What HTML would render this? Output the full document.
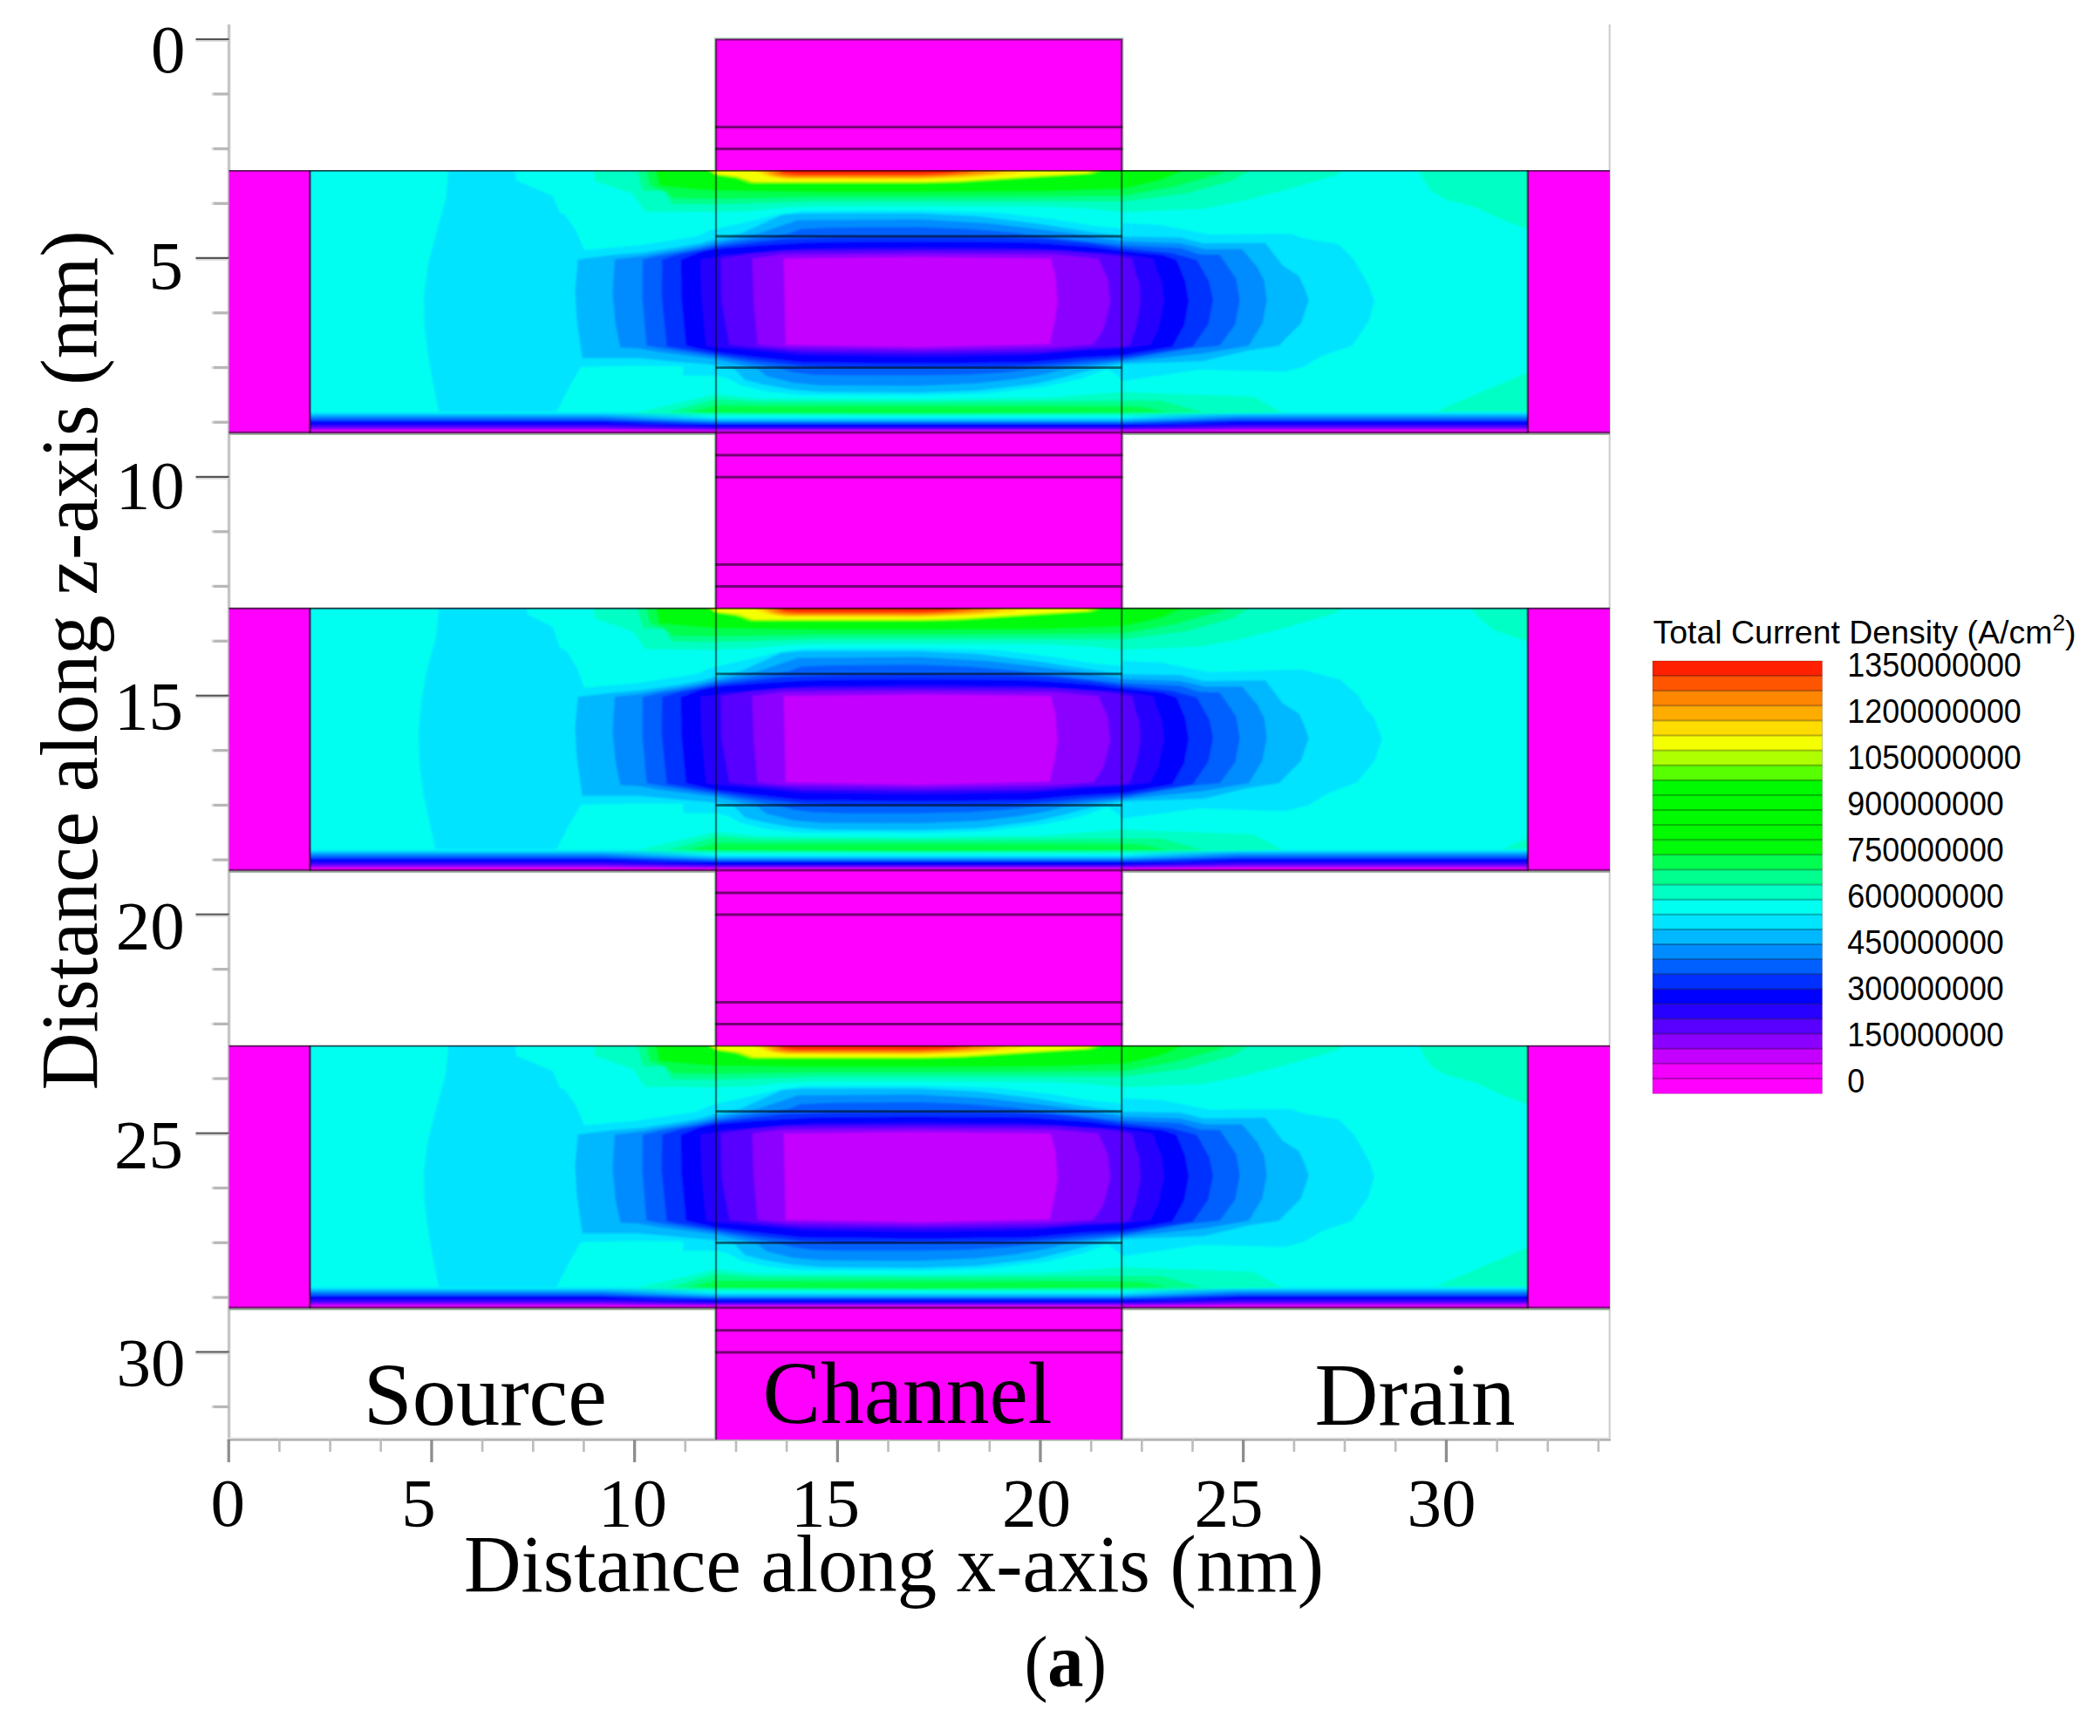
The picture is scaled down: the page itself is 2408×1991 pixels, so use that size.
<!DOCTYPE html>
<html lang="en"><head><meta charset="utf-8"><title>Total Current Density</title>
<style>html,body{margin:0;padding:0;background:#fff}svg{display:block}.s{font-family:"Liberation Serif","Times New Roman",serif;fill:#000}.n{font-family:"Liberation Sans","DejaVu Sans",sans-serif;fill:#000}</style></head><body>
<svg width="2408" height="1991" viewBox="0 0 2408 1991">
<rect width="2408" height="1991" fill="#fff"/>
<defs>
<linearGradient id="gs" gradientUnits="userSpaceOnUse" x1="0" y1="472" x2="0" y2="496.6"><stop offset="0.0000" stop-color="#00fff0"/><stop offset="0.0122" stop-color="#00fff0"/><stop offset="0.0528" stop-color="#00e4ff"/><stop offset="0.1057" stop-color="#00e4ff"/><stop offset="0.1463" stop-color="#00b8ff"/><stop offset="0.1992" stop-color="#00b8ff"/><stop offset="0.2398" stop-color="#008cff"/><stop offset="0.2846" stop-color="#008cff"/><stop offset="0.3252" stop-color="#0060ff"/><stop offset="0.3943" stop-color="#0060ff"/><stop offset="0.4289" stop-color="#0030ff"/><stop offset="0.4289" stop-color="#0030ff"/><stop offset="0.4634" stop-color="#0000ff"/><stop offset="0.5772" stop-color="#0000ff"/><stop offset="0.6179" stop-color="#2800ff"/><stop offset="0.6707" stop-color="#2800ff"/><stop offset="0.7114" stop-color="#5800ff"/><stop offset="0.7439" stop-color="#5800ff"/><stop offset="0.7846" stop-color="#8c00ff"/><stop offset="0.8130" stop-color="#8c00ff"/><stop offset="0.8537" stop-color="#c400ff"/><stop offset="0.8659" stop-color="#c400ff"/><stop offset="0.9065" stop-color="#f400ff"/><stop offset="1.0000" stop-color="#f400ff"/></linearGradient>
<linearGradient id="gc" gradientUnits="userSpaceOnUse" x1="0" y1="473" x2="0" y2="496.6"><stop offset="0.0000" stop-color="#00ffc4"/><stop offset="0.1398" stop-color="#00ffc4"/><stop offset="0.1822" stop-color="#00fff0"/><stop offset="0.2331" stop-color="#00fff0"/><stop offset="0.2754" stop-color="#00e4ff"/><stop offset="0.3178" stop-color="#00e4ff"/><stop offset="0.3602" stop-color="#00b8ff"/><stop offset="0.4025" stop-color="#00b8ff"/><stop offset="0.4449" stop-color="#008cff"/><stop offset="0.4661" stop-color="#008cff"/><stop offset="0.5085" stop-color="#0060ff"/><stop offset="0.5169" stop-color="#0060ff"/><stop offset="0.5593" stop-color="#0030ff"/><stop offset="0.5636" stop-color="#0030ff"/><stop offset="0.6059" stop-color="#0000ff"/><stop offset="0.6992" stop-color="#0000ff"/><stop offset="0.7415" stop-color="#2800ff"/><stop offset="0.7500" stop-color="#2800ff"/><stop offset="0.7924" stop-color="#5800ff"/><stop offset="0.7924" stop-color="#5800ff"/><stop offset="0.8347" stop-color="#8c00ff"/><stop offset="0.8390" stop-color="#8c00ff"/><stop offset="0.8814" stop-color="#c400ff"/><stop offset="0.8941" stop-color="#c400ff"/><stop offset="0.9364" stop-color="#f400ff"/><stop offset="1.0000" stop-color="#f400ff"/></linearGradient>
<linearGradient id="hf" gradientUnits="userSpaceOnUse" x1="690" y1="0" x2="1420" y2="0"><stop offset="0" stop-color="#fff" stop-opacity="0"/><stop offset="0.18" stop-color="#fff" stop-opacity="1"/><stop offset="0.818" stop-color="#fff" stop-opacity="1"/><stop offset="1" stop-color="#fff" stop-opacity="0"/></linearGradient>
<mask id="mc" maskUnits="userSpaceOnUse" x="680" y="460" width="760" height="50"><rect x="680" y="460" width="760" height="50" fill="url(#hf)"/></mask>
<filter id="bl" x="-2%" y="-5%" width="104%" height="110%"><feGaussianBlur stdDeviation="0.9"/></filter>
<filter id="lb2" x="-2%" y="-5%" width="104%" height="110%"><feGaussianBlur stdDeviation="0.5"/></filter>
<clipPath id="cs"><rect x="355.7" y="195.5" width="1396.2" height="301.1"/></clipPath>
</defs>
<g id="axes">
<rect x="260.8" y="28" width="3.5" height="1624.4" fill="#c6c6c6"/>
<rect x="1844.6" y="28" width="2.2" height="1624.4" fill="#cfcfcf"/>
<rect x="260.8" y="1648.6" width="1586" height="2" fill="#dedede"/>
<rect x="260.8" y="1650.4" width="1586" height="2.1" fill="#a6a6a6"/>
<rect x="224.5" y="43.9" width="38" height="2.2" fill="#555"/>
<rect x="224.5" y="46.1" width="38" height="1.7" fill="#d6d6d6"/>
<rect x="244.5" y="106.2" width="18" height="3.3" fill="#b8b8b8"/>
<rect x="242.6" y="106.2" width="2" height="3.3" fill="#dcdcdc"/>
<rect x="244.5" y="169" width="18" height="3.3" fill="#b8b8b8"/>
<rect x="242.6" y="169" width="2" height="3.3" fill="#dcdcdc"/>
<rect x="244.5" y="231.7" width="18" height="3.3" fill="#b8b8b8"/>
<rect x="242.6" y="231.7" width="2" height="3.3" fill="#dcdcdc"/>
<rect x="224.5" y="294.8" width="38" height="2.2" fill="#555"/>
<rect x="224.5" y="297" width="38" height="1.7" fill="#d6d6d6"/>
<rect x="244.5" y="357.2" width="18" height="3.3" fill="#b8b8b8"/>
<rect x="242.6" y="357.2" width="2" height="3.3" fill="#dcdcdc"/>
<rect x="244.5" y="419.9" width="18" height="3.3" fill="#b8b8b8"/>
<rect x="242.6" y="419.9" width="2" height="3.3" fill="#dcdcdc"/>
<rect x="244.5" y="482.6" width="18" height="3.3" fill="#b8b8b8"/>
<rect x="242.6" y="482.6" width="2" height="3.3" fill="#dcdcdc"/>
<rect x="224.5" y="545.8" width="38" height="2.2" fill="#555"/>
<rect x="224.5" y="548" width="38" height="1.7" fill="#d6d6d6"/>
<rect x="244.5" y="608.1" width="18" height="3.3" fill="#b8b8b8"/>
<rect x="242.6" y="608.1" width="2" height="3.3" fill="#dcdcdc"/>
<rect x="244.5" y="670.8" width="18" height="3.3" fill="#b8b8b8"/>
<rect x="242.6" y="670.8" width="2" height="3.3" fill="#dcdcdc"/>
<rect x="244.5" y="733.6" width="18" height="3.3" fill="#b8b8b8"/>
<rect x="242.6" y="733.6" width="2" height="3.3" fill="#dcdcdc"/>
<rect x="224.5" y="796.7" width="38" height="2.2" fill="#555"/>
<rect x="224.5" y="798.9" width="38" height="1.7" fill="#d6d6d6"/>
<rect x="244.5" y="859" width="18" height="3.3" fill="#b8b8b8"/>
<rect x="242.6" y="859" width="2" height="3.3" fill="#dcdcdc"/>
<rect x="244.5" y="921.8" width="18" height="3.3" fill="#b8b8b8"/>
<rect x="242.6" y="921.8" width="2" height="3.3" fill="#dcdcdc"/>
<rect x="244.5" y="984.5" width="18" height="3.3" fill="#b8b8b8"/>
<rect x="242.6" y="984.5" width="2" height="3.3" fill="#dcdcdc"/>
<rect x="224.5" y="1047.6" width="38" height="2.2" fill="#555"/>
<rect x="224.5" y="1049.8" width="38" height="1.7" fill="#d6d6d6"/>
<rect x="244.5" y="1110" width="18" height="3.3" fill="#b8b8b8"/>
<rect x="242.6" y="1110" width="2" height="3.3" fill="#dcdcdc"/>
<rect x="244.5" y="1172.7" width="18" height="3.3" fill="#b8b8b8"/>
<rect x="242.6" y="1172.7" width="2" height="3.3" fill="#dcdcdc"/>
<rect x="244.5" y="1235.4" width="18" height="3.3" fill="#b8b8b8"/>
<rect x="242.6" y="1235.4" width="2" height="3.3" fill="#dcdcdc"/>
<rect x="224.5" y="1298.6" width="38" height="2.2" fill="#555"/>
<rect x="224.5" y="1300.8" width="38" height="1.7" fill="#d6d6d6"/>
<rect x="244.5" y="1360.9" width="18" height="3.3" fill="#b8b8b8"/>
<rect x="242.6" y="1360.9" width="2" height="3.3" fill="#dcdcdc"/>
<rect x="244.5" y="1423.6" width="18" height="3.3" fill="#b8b8b8"/>
<rect x="242.6" y="1423.6" width="2" height="3.3" fill="#dcdcdc"/>
<rect x="244.5" y="1486.4" width="18" height="3.3" fill="#b8b8b8"/>
<rect x="242.6" y="1486.4" width="2" height="3.3" fill="#dcdcdc"/>
<rect x="224.5" y="1549.5" width="38" height="2.2" fill="#555"/>
<rect x="224.5" y="1551.7" width="38" height="1.7" fill="#d6d6d6"/>
<rect x="244.5" y="1611.8" width="18" height="3.3" fill="#b8b8b8"/>
<rect x="242.6" y="1611.8" width="2" height="3.3" fill="#dcdcdc"/>
<rect x="260.6" y="1651" width="3.3" height="26" fill="#8e8e8e"/>
<rect x="319.1" y="1651" width="2.6" height="14" fill="#bcbcbc"/>
<rect x="377.3" y="1651" width="2.6" height="14" fill="#bcbcbc"/>
<rect x="435.4" y="1651" width="2.6" height="14" fill="#bcbcbc"/>
<rect x="493.3" y="1651" width="3.3" height="26" fill="#8e8e8e"/>
<rect x="551.8" y="1651" width="2.6" height="14" fill="#bcbcbc"/>
<rect x="610" y="1651" width="2.6" height="14" fill="#bcbcbc"/>
<rect x="668.1" y="1651" width="2.6" height="14" fill="#bcbcbc"/>
<rect x="726" y="1651" width="3.3" height="26" fill="#8e8e8e"/>
<rect x="784.5" y="1651" width="2.6" height="14" fill="#bcbcbc"/>
<rect x="842.7" y="1651" width="2.6" height="14" fill="#bcbcbc"/>
<rect x="900.8" y="1651" width="2.6" height="14" fill="#bcbcbc"/>
<rect x="958.7" y="1651" width="3.3" height="26" fill="#8e8e8e"/>
<rect x="1017.2" y="1651" width="2.6" height="14" fill="#bcbcbc"/>
<rect x="1075.3" y="1651" width="2.6" height="14" fill="#bcbcbc"/>
<rect x="1133.5" y="1651" width="2.6" height="14" fill="#bcbcbc"/>
<rect x="1191.3" y="1651" width="3.3" height="26" fill="#8e8e8e"/>
<rect x="1249.9" y="1651" width="2.6" height="14" fill="#bcbcbc"/>
<rect x="1308" y="1651" width="2.6" height="14" fill="#bcbcbc"/>
<rect x="1366.2" y="1651" width="2.6" height="14" fill="#bcbcbc"/>
<rect x="1424" y="1651" width="3.3" height="26" fill="#8e8e8e"/>
<rect x="1482.6" y="1651" width="2.6" height="14" fill="#bcbcbc"/>
<rect x="1540.7" y="1651" width="2.6" height="14" fill="#bcbcbc"/>
<rect x="1598.9" y="1651" width="2.6" height="14" fill="#bcbcbc"/>
<rect x="1656.8" y="1651" width="3.3" height="26" fill="#8e8e8e"/>
<rect x="1715.3" y="1651" width="2.6" height="14" fill="#bcbcbc"/>
<rect x="1773.5" y="1651" width="2.6" height="14" fill="#bcbcbc"/>
<rect x="1831.6" y="1651" width="2.6" height="14" fill="#bcbcbc"/>
</g>
<g id="gate">
<rect x="820.4" y="44.4" width="466.9" height="1606.5" fill="#ff00ff"/>
<path d="M819.5 1650.9V43.7H1288V1650.9" fill="none" stroke="#b4e6c0" stroke-width="1.5"/>
</g>
<g transform="translate(0 0)">
<rect x="262.6" y="195.5" width="1583.4" height="301.1" fill="#ff00ff"/>
<g clip-path="url(#cs)"><g filter="url(#bl)">
<rect x="350.7" y="190.5" width="1406.2" height="311.1" fill="#00fff0"/>
<path fill="#00e4ff" d="M514.3 194.9L511 229.2L499.9 269.1L491.1 302.3L486.2 337.7L486.6 373.1L491.1 408.6L496.6 439.6L503.3 473.9L637.2 473.9L652.7 444L666 420.8L732.4 419.6L783.4 420.1L783.4 430.7L821 430.7L835 434L850 442L880 449L920 453L1054 453.5L1131.7 451.3L1198 443.5L1242.6 433.5L1270 423.5L1280 430L1287 437L1375.6 424.1L1473 426.3L1495.1 420.8L1515.1 408.6L1550.5 396.4L1569.3 368.7L1576 345.5L1570.4 328.9L1561.6 313.4L1552.7 297.9L1535 280.1L1495.1 273.5L1479.6 268L1386.6 269.1L1331.3 258L1287 255.8L1287 262L1254 259L1209 251.5L1143 243.7L1054 241.5L921 242L893 246L850 256L821 262.6L812.2 265.1L798.9 271.3L732.4 281.3L670 286.8L660.5 264.6L648.3 246.9L641.7 243.6L633.9 224.8L591.8 207.1L590.7 194.9Z"/>
<path fill="#00b8ff" d="M662.7 297.4L659.4 333.3L661.6 368.7L667.8 410.8L732 410.8L755 412.8L790 416L821 418.5L842 423L854.3 435.8L876.5 441.3L909.8 446.9L943 449.6L1054 450.2L1120.6 448L1187 440.2L1220.4 432.4L1253.7 423.5L1287 417.4L1380 414.1L1430.9 401.9L1466.8 396.4L1474.1 388.6L1491.8 370.9L1500.7 344.4L1495.1 328.9L1489.6 316.7L1470.8 304.5L1450.9 278.4L1380 279L1353.4 272.4L1287 271.3L1265 268L1242.6 264.8L1187 256L1120.6 248.1L1054 244.8L921 244.8L896.4 246.5L850 267.6L835 271L821 274L816.7 275L802.7 279L780.7 283L758.7 286.3L736.7 289.7L704.3 292.3L664 297.2Z"/>
<path fill="#008cff" d="M704.8 297.4L702.5 337.7L705.9 373.1L711.4 398.6L732 399.6L755 403.6L790 408L821 412L868.7 423L878.7 431.3L909.8 439L943 441.9L1054 442.4L1120.6 439.6L1165 434.7L1198.2 429L1220.4 423.5L1287 415L1380 405.3L1432 396.4L1447.5 370.9L1452.6 344.4L1449.8 322.2L1442 306.7L1424.3 285.7L1382.2 285.7L1353.4 279L1287 276.8L1231.5 268L1198 263.7L1131.7 256L1054 251.5L915 252.6L868.7 268L845 273L821 278L816.7 279L802.7 282.3L780.7 286.3L758.7 289.7L736.7 293.7L706 297.2Z"/>
<path fill="#0060ff" d="M736.9 297.4L736.4 339.9L741.3 396.4L765.6 400.5L790 404.3L821 409L896.4 423L909.8 426.9L932 429.7L965.2 430.8L1054 430.8L1109.5 429.7L1153.9 426.9L1181.6 423.5L1287 413L1364.5 399.7L1398.8 396.4L1416.5 372L1421.6 344.4L1417.6 320L1398.8 292.3L1375.6 291.7L1353.4 284.6L1287 281.3L1176 268.7L1165 267L1109.5 262.6L1054 260.4L954 261L918.6 262.6L904 268L860 274.5L821 280.7L816.7 281.7L802.7 285L780.7 289L758.7 292.7L738.3 297.2Z"/>
<path fill="#0030ff" d="M759 297.4L758.6 339.9L764.5 397.1L787.8 401L821 406.7L870 414L920 420L960 421.5L1054 421.5L1150 421L1200 418L1250 413L1287 410.5L1367.8 397.5L1385.5 372L1391.1 344.4L1386.6 323.3L1372.3 297.9L1342.4 290.1L1287 284.6L1250 279L1200 274L1150 272L1054 271.5L960 272L900 274L860 278.5L821 283.3L816.7 284.3L802.7 287.3L780.7 291.3L760.2 297.2Z"/>
<path fill="#0000ff" d="M780.7 297.4L781.2 339.9L786.7 396.4L821 404.1L870 410L920 415.5L1054 417L1180 415.5L1240 410L1287 407.5L1344.1 397.5L1357.9 373.1L1363 345.5L1359 322.2L1349 297.9L1331.3 292.3L1287 287.9L1250 283L1180 278L1054 277L930 278L870 281.5L821 285.5L816.7 286.3L802.7 289.3L782.1 297.2Z"/>
<path fill="#2800ff" d="M803.3 297.9L804.4 339.9L809.9 396.4L821 397.9L870 402L920 407L1054 409L1180 407L1240 402L1287 399.5L1319.1 395.3L1328 377.6L1334.6 346.6L1332.4 323.3L1326.9 311.1L1322.4 296.8L1287 291.2L1250 290L1180 285L1054 283.7L930 285L870 290L828 292.3L821 295.5L804.5 297.2Z"/>
<path fill="#5800ff" d="M826.5 296.4L827.7 347L836.5 395.3L870 399L920 403.5L1054 405L1190 403.5L1250 399L1287 397.5L1294.8 396.4L1302.5 375.4L1307.4 348.8L1306.5 324.4L1302.5 315.6L1298.1 296.8L1287 294.5L1260 291L1210 287.5L1054 287L900 287.5L862 291Z"/>
<path fill="#8c00ff" d="M862.6 296.4L864.3 347L868.7 395.3L905 399L1054 401.5L1200 399L1253.7 395.3L1264.8 379L1269 363.6L1273 347L1270.4 320.3L1259.3 296.4L1205 291.5L1054 290.5L899 291.5Z"/>
<path fill="#c400ff" d="M898.7 296.4L900.9 395.3L1054 398L1203.8 394.7L1209.3 369L1212.7 347L1210.4 318L1205 296.4L1054 294.7Z"/>
<path fill="#00ffc4" d="M680.7 190.5L682 207.3L725.3 222L740 242.7L821 243.3L860 242L900 238L940 236.7L1054 236.5L1200 237L1250 239.5L1288 243.3L1380 239.3L1426.7 230L1473 218L1533 200.7L1546.7 190.5Z"/>
<path fill="#00ff8c" d="M729.3 190.5L737.3 218.7L761.3 219.3L770.7 234L821 234.5L940 231L1054 231L1200 231L1288 231.3L1360 222L1413 207.3L1440 190.5Z"/>
<path fill="#00ff50" d="M740 190.5L745.3 212.7L764 220L772 227.3L821 228L940 226L1054 226L1200 225.5L1288 224.7L1346.7 214L1400 199.3L1408 190.5Z"/>
<path fill="#00fc08" d="M751.3 190.5L756 213.3L793.3 216.7L821 218.7L940 220.4L1054 220.4L1200 219.5L1288 216.7L1333 206L1366.7 190.5Z"/>
<path fill="#58ff00" d="M803 190.5L821 201L843 204.5L860 210.5L1054 210.5L1100 209.5L1200 203L1254 199.5L1275 190.5Z"/>
<path fill="#b0ff00" d="M806 190.5L821 200.2L845 203.5L862 209.5L1054 209.5L1100 208.5L1200 202L1250 199L1268 190.5Z"/>
<path fill="#f4ff00" d="M810 190.5L821 199.5L847 202.5L865 208.5L1054 208.5L1100 207.3L1200 201L1245 198.5L1260 190.5Z"/>
<path fill="#ffdc00" d="M850 190.5L880 202.5L900 205.5L1054 206L1110 204L1160 200L1200 190.5Z"/>
<path fill="#ffac00" d="M862 190.5L886 202L903 204.3L1054 204.5L1100 202.5L1140 199.5L1170 190.5Z"/>
<path fill="#ff8600" d="M870 190.5L890 201L907 203L1054 203L1090 201.5L1125 198.5L1150 190.5Z"/>
<path fill="#ff5500" d="M878 190.5L896 200L911 201.5L1054 201.5L1080 200.5L1110 198L1130 190.5Z"/>
<path fill="#ff2000" d="M886 190.5L900 198.5L915 199.7L1054 199.7L1075 199L1095 197.5L1112 190.5Z"/>
<path fill="#00ffc4" d="M1625.8 191.6L1632.4 206L1641.3 219.3L1659 229.2L1690 237L1718.8 250.3L1756.4 264.6L1756.4 191.6Z"/>
<path fill="#00ffc4" d="M1641.3 473.9L1756.4 425.2L1756.4 473.9Z"/>
<rect x="350.7" y="472" width="1406.2" height="29.6" fill="url(#gs)"/>
<path fill="#00ffc4" d="M730 473.2L821 452L870 457L1054 458L1200 456L1287 449.5L1380 452.9L1437.6 455L1470.8 473.2L1287 475.5L1054 476.8L821 475.5Z"/>
<rect x="690" y="473.4" width="730" height="28.2" fill="url(#gc)" mask="url(#mc)"/>
<path fill="#00ff8c" d="M765.6 473L821 457.4L870 460.5L1054 461L1200 460L1287 459.5L1331.3 459.5L1380 473L1287 474.3L1054 475.2L821 474.3Z"/>
<path fill="#00ff50" d="M787.8 473L821 464.5L870 465L1054 465L1200 465L1287 465.5L1310 466.5L1340 473L1287 473.5L1054 474.3L821 473.5Z"/>
<path fill="#00ff3c" d="M806 472.5L821 469.8L870 469.3L1054 469.3L1200 469.3L1287 470.2L1300 472.3L1054 472.8Z"/>
</g></g>
<g filter="url(#lb2)">
<path d="M262.6 195.9H1846" fill="none" stroke="#000" stroke-opacity="0.66" stroke-width="1.9"/>
<path d="M355.4 195.5V496.6M1751.9 195.5V496.6" fill="none" stroke="#000" stroke-opacity="0.55" stroke-width="2.6"/>
<path d="M262.6 496.2H1846" fill="none" stroke="#000" stroke-opacity="0.5" stroke-width="2.8"/>
<path d="M262.6 497.9H820.1M1287.5 497.9H1846" fill="none" stroke="#8ca08c" stroke-width="1.8"/>
<path d="M821.1 271H1286.5M821.1 421.6H1286.5" fill="none" stroke="#000" stroke-opacity="0.55" stroke-width="2.8"/>
</g>
</g>
<g transform="translate(0 501.9)">
<rect x="262.6" y="195.5" width="1583.4" height="301.1" fill="#ff00ff"/>
<g clip-path="url(#cs)"><g filter="url(#bl)">
<rect x="350.7" y="190.5" width="1406.2" height="311.1" fill="#00fff0"/>
<path fill="#00e4ff" d="M503.3 194.9L499.9 229.2L488.9 269.1L483.3 302.3L480 337.7L481.1 373.1L485.5 408.6L492.2 439.6L499.9 473.9L637.2 473.9L652.7 444L666 420.8L732.4 419.6L783.4 420.1L783.4 430.7L821 430.7L835 434L850 442L880 449L920 453L1054 453.5L1131.7 451.3L1198 443.5L1242.6 433.5L1270 423.5L1280 430L1287 437L1375.6 425.2L1473 428.5L1499.6 421.9L1521.7 408.6L1556 395.3L1576 370.9L1584.8 345.5L1574.9 320L1566 311.1L1557.2 295.6L1537.2 277.9L1492.9 265.8L1386.6 269.1L1331.3 258L1287 255.8L1287 262L1254 259L1209 251.5L1143 243.7L1054 241.5L921 242L893 246L850 256L821 262.6L812.2 265.1L798.9 271.3L732.4 281.3L670 286.8L661.6 264.6L650.5 245.8L641.7 240.3L633.9 217L605.1 202.6L604 194.9Z"/>
<path fill="#00b8ff" d="M662.7 297.4L659.4 333.3L661.6 368.7L667.8 410.8L732 410.8L755 412.8L790 416L821 418.5L842 423L854.3 435.8L876.5 441.3L909.8 446.9L943 449.6L1054 450.2L1120.6 448L1187 440.2L1220.4 432.4L1253.7 423.5L1287 417.4L1380 414.1L1430.9 401.9L1466.8 396.4L1474.1 388.6L1491.8 370.9L1500.7 344.4L1495.1 328.9L1489.6 316.7L1470.8 304.5L1450.9 278.4L1380 279L1353.4 272.4L1287 271.3L1265 268L1242.6 264.8L1187 256L1120.6 248.1L1054 244.8L921 244.8L896.4 246.5L850 267.6L835 271L821 274L816.7 275L802.7 279L780.7 283L758.7 286.3L736.7 289.7L704.3 292.3L664 297.2Z"/>
<path fill="#008cff" d="M704.8 297.4L702.5 337.7L705.9 373.1L711.4 398.6L732 399.6L755 403.6L790 408L821 412L868.7 423L878.7 431.3L909.8 439L943 441.9L1054 442.4L1120.6 439.6L1165 434.7L1198.2 429L1220.4 423.5L1287 415L1380 405.3L1432 396.4L1447.5 370.9L1452.6 344.4L1449.8 322.2L1442 306.7L1424.3 285.7L1382.2 285.7L1353.4 279L1287 276.8L1231.5 268L1198 263.7L1131.7 256L1054 251.5L915 252.6L868.7 268L845 273L821 278L816.7 279L802.7 282.3L780.7 286.3L758.7 289.7L736.7 293.7L706 297.2Z"/>
<path fill="#0060ff" d="M736.9 297.4L736.4 339.9L741.3 396.4L765.6 400.5L790 404.3L821 409L896.4 423L909.8 426.9L932 429.7L965.2 430.8L1054 430.8L1109.5 429.7L1153.9 426.9L1181.6 423.5L1287 413L1364.5 399.7L1398.8 396.4L1416.5 372L1421.6 344.4L1417.6 320L1398.8 292.3L1375.6 291.7L1353.4 284.6L1287 281.3L1176 268.7L1165 267L1109.5 262.6L1054 260.4L954 261L918.6 262.6L904 268L860 274.5L821 280.7L816.7 281.7L802.7 285L780.7 289L758.7 292.7L738.3 297.2Z"/>
<path fill="#0030ff" d="M759 297.4L758.6 339.9L764.5 397.1L787.8 401L821 406.7L870 414L920 420L960 421.5L1054 421.5L1150 421L1200 418L1250 413L1287 410.5L1367.8 397.5L1385.5 372L1391.1 344.4L1386.6 323.3L1372.3 297.9L1342.4 290.1L1287 284.6L1250 279L1200 274L1150 272L1054 271.5L960 272L900 274L860 278.5L821 283.3L816.7 284.3L802.7 287.3L780.7 291.3L760.2 297.2Z"/>
<path fill="#0000ff" d="M780.7 297.4L781.2 339.9L786.7 396.4L821 404.1L870 410L920 415.5L1054 417L1180 415.5L1240 410L1287 407.5L1344.1 397.5L1357.9 373.1L1363 345.5L1359 322.2L1349 297.9L1331.3 292.3L1287 287.9L1250 283L1180 278L1054 277L930 278L870 281.5L821 285.5L816.7 286.3L802.7 289.3L782.1 297.2Z"/>
<path fill="#2800ff" d="M803.3 297.9L804.4 339.9L809.9 396.4L821 397.9L870 402L920 407L1054 409L1180 407L1240 402L1287 399.5L1319.1 395.3L1328 377.6L1334.6 346.6L1332.4 323.3L1326.9 311.1L1322.4 296.8L1287 291.2L1250 290L1180 285L1054 283.7L930 285L870 290L828 292.3L821 295.5L804.5 297.2Z"/>
<path fill="#5800ff" d="M826.5 296.4L827.7 347L836.5 395.3L870 399L920 403.5L1054 405L1190 403.5L1250 399L1287 397.5L1294.8 396.4L1302.5 375.4L1307.4 348.8L1306.5 324.4L1302.5 315.6L1298.1 296.8L1287 294.5L1260 291L1210 287.5L1054 287L900 287.5L862 291Z"/>
<path fill="#8c00ff" d="M862.6 296.4L864.3 347L868.7 395.3L905 399L1054 401.5L1200 399L1253.7 395.3L1264.8 379L1269 363.6L1273 347L1270.4 320.3L1259.3 296.4L1205 291.5L1054 290.5L899 291.5Z"/>
<path fill="#c400ff" d="M898.7 296.4L900.9 395.3L1054 398L1203.8 394.7L1209.3 369L1212.7 347L1210.4 318L1205 296.4L1054 294.7Z"/>
<path fill="#00ffc4" d="M680.7 190.5L682 207.3L725.3 222L740 242.7L821 243.3L860 242L900 238L940 236.7L1054 236.5L1200 237L1250 239.5L1288 243.3L1380 239.3L1426.7 230L1473 218L1533 200.7L1546.7 190.5Z"/>
<path fill="#00ff8c" d="M729.3 190.5L737.3 218.7L761.3 219.3L770.7 234L821 234.5L940 231L1054 231L1200 231L1288 231.3L1360 222L1413 207.3L1440 190.5Z"/>
<path fill="#00ff50" d="M740 190.5L745.3 212.7L764 220L772 227.3L821 228L940 226L1054 226L1200 225.5L1288 224.7L1346.7 214L1400 199.3L1408 190.5Z"/>
<path fill="#00fc08" d="M751.3 190.5L756 213.3L793.3 216.7L821 218.7L940 220.4L1054 220.4L1200 219.5L1288 216.7L1333 206L1366.7 190.5Z"/>
<path fill="#58ff00" d="M803 190.5L821 201L843 204.5L860 210.5L1054 210.5L1100 209.5L1200 203L1254 199.5L1275 190.5Z"/>
<path fill="#b0ff00" d="M806 190.5L821 200.2L845 203.5L862 209.5L1054 209.5L1100 208.5L1200 202L1250 199L1268 190.5Z"/>
<path fill="#f4ff00" d="M810 190.5L821 199.5L847 202.5L865 208.5L1054 208.5L1100 207.3L1200 201L1245 198.5L1260 190.5Z"/>
<path fill="#ffdc00" d="M850 190.5L880 202.5L900 205.5L1054 206L1110 204L1160 200L1200 190.5Z"/>
<path fill="#ffac00" d="M862 190.5L886 202L903 204.3L1054 204.5L1100 202.5L1140 199.5L1170 190.5Z"/>
<path fill="#ff8600" d="M870 190.5L890 201L907 203L1054 203L1090 201.5L1125 198.5L1150 190.5Z"/>
<path fill="#ff5500" d="M878 190.5L896 200L911 201.5L1054 201.5L1080 200.5L1110 198L1130 190.5Z"/>
<path fill="#ff2000" d="M886 190.5L900 198.5L915 199.7L1054 199.7L1075 199L1095 197.5L1112 190.5Z"/>
<path fill="#00ffc4" d="M1683.4 191.6L1696.7 207.1L1712.2 220.4L1756.4 235.4L1756.4 191.6Z"/>
<path fill="#00ffc4" d="M1718.8 473.9L1756.4 457.3L1756.4 473.9Z"/>
<rect x="350.7" y="472" width="1406.2" height="29.6" fill="url(#gs)"/>
<path fill="#00ffc4" d="M730 473.2L821 452L870 457L1054 458L1200 456L1287 449.5L1380 452.9L1437.6 455L1470.8 473.2L1287 475.5L1054 476.8L821 475.5Z"/>
<rect x="690" y="473.4" width="730" height="28.2" fill="url(#gc)" mask="url(#mc)"/>
<path fill="#00ff8c" d="M765.6 473L821 457.4L870 460.5L1054 461L1200 460L1287 459.5L1331.3 459.5L1380 473L1287 474.3L1054 475.2L821 474.3Z"/>
<path fill="#00ff50" d="M787.8 473L821 464.5L870 465L1054 465L1200 465L1287 465.5L1310 466.5L1340 473L1287 473.5L1054 474.3L821 473.5Z"/>
<path fill="#00ff3c" d="M806 472.5L821 469.8L870 469.3L1054 469.3L1200 469.3L1287 470.2L1300 472.3L1054 472.8Z"/>
</g></g>
<g filter="url(#lb2)">
<path d="M262.6 195.9H1846" fill="none" stroke="#000" stroke-opacity="0.66" stroke-width="1.9"/>
<path d="M355.4 195.5V496.6M1751.9 195.5V496.6" fill="none" stroke="#000" stroke-opacity="0.55" stroke-width="2.6"/>
<path d="M262.6 496.2H1846" fill="none" stroke="#000" stroke-opacity="0.5" stroke-width="2.8"/>
<path d="M262.6 497.9H820.1M1287.5 497.9H1846" fill="none" stroke="#8ca08c" stroke-width="1.8"/>
<path d="M821.1 271H1286.5M821.1 421.6H1286.5" fill="none" stroke="#000" stroke-opacity="0.55" stroke-width="2.8"/>
</g>
</g>
<g transform="translate(0 1003.7)">
<rect x="262.6" y="195.5" width="1583.4" height="301.1" fill="#ff00ff"/>
<g clip-path="url(#cs)"><g filter="url(#bl)">
<rect x="350.7" y="190.5" width="1406.2" height="311.1" fill="#00fff0"/>
<path fill="#00e4ff" d="M514.3 194.9L511 229.2L499.9 269.1L491.1 302.3L486.2 337.7L486.6 373.1L491.1 408.6L496.6 439.6L503.3 473.9L637.2 473.9L652.7 444L666 420.8L732.4 419.6L783.4 420.1L783.4 430.7L821 430.7L835 434L850 442L880 449L920 453L1054 453.5L1131.7 451.3L1198 443.5L1242.6 433.5L1270 423.5L1280 430L1287 437L1375.6 424.1L1473 426.3L1495.1 420.8L1515.1 408.6L1550.5 396.4L1569.3 368.7L1576 345.5L1570.4 328.9L1561.6 313.4L1552.7 297.9L1535 280.1L1495.1 273.5L1479.6 268L1386.6 269.1L1331.3 258L1287 255.8L1287 262L1254 259L1209 251.5L1143 243.7L1054 241.5L921 242L893 246L850 256L821 262.6L812.2 265.1L798.9 271.3L732.4 281.3L670 286.8L660.5 264.6L648.3 246.9L641.7 243.6L633.9 224.8L591.8 207.1L590.7 194.9Z"/>
<path fill="#00b8ff" d="M662.7 297.4L659.4 333.3L661.6 368.7L667.8 410.8L732 410.8L755 412.8L790 416L821 418.5L842 423L854.3 435.8L876.5 441.3L909.8 446.9L943 449.6L1054 450.2L1120.6 448L1187 440.2L1220.4 432.4L1253.7 423.5L1287 417.4L1380 414.1L1430.9 401.9L1466.8 396.4L1474.1 388.6L1491.8 370.9L1500.7 344.4L1495.1 328.9L1489.6 316.7L1470.8 304.5L1450.9 278.4L1380 279L1353.4 272.4L1287 271.3L1265 268L1242.6 264.8L1187 256L1120.6 248.1L1054 244.8L921 244.8L896.4 246.5L850 267.6L835 271L821 274L816.7 275L802.7 279L780.7 283L758.7 286.3L736.7 289.7L704.3 292.3L664 297.2Z"/>
<path fill="#008cff" d="M704.8 297.4L702.5 337.7L705.9 373.1L711.4 398.6L732 399.6L755 403.6L790 408L821 412L868.7 423L878.7 431.3L909.8 439L943 441.9L1054 442.4L1120.6 439.6L1165 434.7L1198.2 429L1220.4 423.5L1287 415L1380 405.3L1432 396.4L1447.5 370.9L1452.6 344.4L1449.8 322.2L1442 306.7L1424.3 285.7L1382.2 285.7L1353.4 279L1287 276.8L1231.5 268L1198 263.7L1131.7 256L1054 251.5L915 252.6L868.7 268L845 273L821 278L816.7 279L802.7 282.3L780.7 286.3L758.7 289.7L736.7 293.7L706 297.2Z"/>
<path fill="#0060ff" d="M736.9 297.4L736.4 339.9L741.3 396.4L765.6 400.5L790 404.3L821 409L896.4 423L909.8 426.9L932 429.7L965.2 430.8L1054 430.8L1109.5 429.7L1153.9 426.9L1181.6 423.5L1287 413L1364.5 399.7L1398.8 396.4L1416.5 372L1421.6 344.4L1417.6 320L1398.8 292.3L1375.6 291.7L1353.4 284.6L1287 281.3L1176 268.7L1165 267L1109.5 262.6L1054 260.4L954 261L918.6 262.6L904 268L860 274.5L821 280.7L816.7 281.7L802.7 285L780.7 289L758.7 292.7L738.3 297.2Z"/>
<path fill="#0030ff" d="M759 297.4L758.6 339.9L764.5 397.1L787.8 401L821 406.7L870 414L920 420L960 421.5L1054 421.5L1150 421L1200 418L1250 413L1287 410.5L1367.8 397.5L1385.5 372L1391.1 344.4L1386.6 323.3L1372.3 297.9L1342.4 290.1L1287 284.6L1250 279L1200 274L1150 272L1054 271.5L960 272L900 274L860 278.5L821 283.3L816.7 284.3L802.7 287.3L780.7 291.3L760.2 297.2Z"/>
<path fill="#0000ff" d="M780.7 297.4L781.2 339.9L786.7 396.4L821 404.1L870 410L920 415.5L1054 417L1180 415.5L1240 410L1287 407.5L1344.1 397.5L1357.9 373.1L1363 345.5L1359 322.2L1349 297.9L1331.3 292.3L1287 287.9L1250 283L1180 278L1054 277L930 278L870 281.5L821 285.5L816.7 286.3L802.7 289.3L782.1 297.2Z"/>
<path fill="#2800ff" d="M803.3 297.9L804.4 339.9L809.9 396.4L821 397.9L870 402L920 407L1054 409L1180 407L1240 402L1287 399.5L1319.1 395.3L1328 377.6L1334.6 346.6L1332.4 323.3L1326.9 311.1L1322.4 296.8L1287 291.2L1250 290L1180 285L1054 283.7L930 285L870 290L828 292.3L821 295.5L804.5 297.2Z"/>
<path fill="#5800ff" d="M826.5 296.4L827.7 347L836.5 395.3L870 399L920 403.5L1054 405L1190 403.5L1250 399L1287 397.5L1294.8 396.4L1302.5 375.4L1307.4 348.8L1306.5 324.4L1302.5 315.6L1298.1 296.8L1287 294.5L1260 291L1210 287.5L1054 287L900 287.5L862 291Z"/>
<path fill="#8c00ff" d="M862.6 296.4L864.3 347L868.7 395.3L905 399L1054 401.5L1200 399L1253.7 395.3L1264.8 379L1269 363.6L1273 347L1270.4 320.3L1259.3 296.4L1205 291.5L1054 290.5L899 291.5Z"/>
<path fill="#c400ff" d="M898.7 296.4L900.9 395.3L1054 398L1203.8 394.7L1209.3 369L1212.7 347L1210.4 318L1205 296.4L1054 294.7Z"/>
<path fill="#00ffc4" d="M680.7 190.5L682 207.3L725.3 222L740 242.7L821 243.3L860 242L900 238L940 236.7L1054 236.5L1200 237L1250 239.5L1288 243.3L1380 239.3L1426.7 230L1473 218L1533 200.7L1546.7 190.5Z"/>
<path fill="#00ff8c" d="M729.3 190.5L737.3 218.7L761.3 219.3L770.7 234L821 234.5L940 231L1054 231L1200 231L1288 231.3L1360 222L1413 207.3L1440 190.5Z"/>
<path fill="#00ff50" d="M740 190.5L745.3 212.7L764 220L772 227.3L821 228L940 226L1054 226L1200 225.5L1288 224.7L1346.7 214L1400 199.3L1408 190.5Z"/>
<path fill="#00fc08" d="M751.3 190.5L756 213.3L793.3 216.7L821 218.7L940 220.4L1054 220.4L1200 219.5L1288 216.7L1333 206L1366.7 190.5Z"/>
<path fill="#58ff00" d="M803 190.5L821 201L843 204.5L860 210.5L1054 210.5L1100 209.5L1200 203L1254 199.5L1275 190.5Z"/>
<path fill="#b0ff00" d="M806 190.5L821 200.2L845 203.5L862 209.5L1054 209.5L1100 208.5L1200 202L1250 199L1268 190.5Z"/>
<path fill="#f4ff00" d="M810 190.5L821 199.5L847 202.5L865 208.5L1054 208.5L1100 207.3L1200 201L1245 198.5L1260 190.5Z"/>
<path fill="#ffdc00" d="M850 190.5L880 202.5L900 205.5L1054 206L1110 204L1160 200L1200 190.5Z"/>
<path fill="#ffac00" d="M862 190.5L886 202L903 204.3L1054 204.5L1100 202.5L1140 199.5L1170 190.5Z"/>
<path fill="#ff8600" d="M870 190.5L890 201L907 203L1054 203L1090 201.5L1125 198.5L1150 190.5Z"/>
<path fill="#ff5500" d="M878 190.5L896 200L911 201.5L1054 201.5L1080 200.5L1110 198L1130 190.5Z"/>
<path fill="#ff2000" d="M886 190.5L900 198.5L915 199.7L1054 199.7L1075 199L1095 197.5L1112 190.5Z"/>
<path fill="#00ffc4" d="M1625.8 191.6L1632.4 206L1641.3 219.3L1659 229.2L1690 237L1718.8 250.3L1756.4 264.6L1756.4 191.6Z"/>
<path fill="#00ffc4" d="M1641.3 473.9L1756.4 425.2L1756.4 473.9Z"/>
<rect x="350.7" y="472" width="1406.2" height="29.6" fill="url(#gs)"/>
<path fill="#00ffc4" d="M730 473.2L821 452L870 457L1054 458L1200 456L1287 449.5L1380 452.9L1437.6 455L1470.8 473.2L1287 475.5L1054 476.8L821 475.5Z"/>
<rect x="690" y="473.4" width="730" height="28.2" fill="url(#gc)" mask="url(#mc)"/>
<path fill="#00ff8c" d="M765.6 473L821 457.4L870 460.5L1054 461L1200 460L1287 459.5L1331.3 459.5L1380 473L1287 474.3L1054 475.2L821 474.3Z"/>
<path fill="#00ff50" d="M787.8 473L821 464.5L870 465L1054 465L1200 465L1287 465.5L1310 466.5L1340 473L1287 473.5L1054 474.3L821 473.5Z"/>
<path fill="#00ff3c" d="M806 472.5L821 469.8L870 469.3L1054 469.3L1200 469.3L1287 470.2L1300 472.3L1054 472.8Z"/>
</g></g>
<g filter="url(#lb2)">
<path d="M262.6 195.9H1846" fill="none" stroke="#000" stroke-opacity="0.66" stroke-width="1.9"/>
<path d="M355.4 195.5V496.6M1751.9 195.5V496.6" fill="none" stroke="#000" stroke-opacity="0.55" stroke-width="2.6"/>
<path d="M262.6 496.2H1846" fill="none" stroke="#000" stroke-opacity="0.5" stroke-width="2.8"/>
<path d="M262.6 497.9H820.1M1287.5 497.9H1846" fill="none" stroke="#8ca08c" stroke-width="1.8"/>
<path d="M821.1 271H1286.5M821.1 421.6H1286.5" fill="none" stroke="#000" stroke-opacity="0.55" stroke-width="2.8"/>
</g>
</g>
<filter id="lb" x="-5%" y="-5%" width="110%" height="110%"><feGaussianBlur stdDeviation="0.55"/></filter>
<g filter="url(#lb)">
<g id="gatelines" stroke="#000" stroke-opacity="0.55" stroke-width="3" fill="none">
<path d="M820.4 145.7H1287.3"/>
<path d="M820.4 170.8H1287.3"/>
<path d="M820.4 522.1H1287.3"/>
<path d="M820.4 547.2H1287.3"/>
<path d="M820.4 647.5H1287.3"/>
<path d="M820.4 672.6H1287.3"/>
<path d="M820.4 1023.9H1287.3"/>
<path d="M820.4 1049H1287.3"/>
<path d="M820.4 1149.4H1287.3"/>
<path d="M820.4 1174.5H1287.3"/>
<path d="M820.4 1525.8H1287.3"/>
<path d="M820.4 1550.9H1287.3"/>
</g>
<g stroke="#000" stroke-opacity="0.5" stroke-width="2.4" fill="none">
<path d="M821 1650.9V45.4H1286.2V1650.9"/>
</g>
</g>
<g id="legend">
<rect x="1895" y="758" width="194.5" height="17.4" fill="#ff2000"/>
<rect x="1895" y="775.1" width="194.5" height="17.4" fill="#ff5500"/>
<rect x="1895" y="792.2" width="194.5" height="17.4" fill="#ff8600"/>
<rect x="1895" y="809.3" width="194.5" height="17.4" fill="#ffac00"/>
<rect x="1895" y="826.4" width="194.5" height="17.4" fill="#ffdc00"/>
<rect x="1895" y="843.5" width="194.5" height="17.4" fill="#f4ff00"/>
<rect x="1895" y="860.6" width="194.5" height="17.4" fill="#b0ff00"/>
<rect x="1895" y="877.7" width="194.5" height="17.4" fill="#58ff00"/>
<rect x="1895" y="894.8" width="194.5" height="17.4" fill="#00fa00"/>
<rect x="1895" y="911.9" width="194.5" height="17.4" fill="#00fa00"/>
<rect x="1895" y="929" width="194.5" height="17.4" fill="#00fa00"/>
<rect x="1895" y="946.1" width="194.5" height="17.4" fill="#00fa00"/>
<rect x="1895" y="963.2" width="194.5" height="17.4" fill="#00fc08"/>
<rect x="1895" y="980.3" width="194.5" height="17.4" fill="#00ff50"/>
<rect x="1895" y="997.4" width="194.5" height="17.4" fill="#00ff8c"/>
<rect x="1895" y="1014.6" width="194.5" height="17.4" fill="#00ffc4"/>
<rect x="1895" y="1031.7" width="194.5" height="17.4" fill="#00fff0"/>
<rect x="1895" y="1048.8" width="194.5" height="17.4" fill="#00e4ff"/>
<rect x="1895" y="1065.9" width="194.5" height="17.4" fill="#00b8ff"/>
<rect x="1895" y="1083" width="194.5" height="17.4" fill="#008cff"/>
<rect x="1895" y="1100.1" width="194.5" height="17.4" fill="#0060ff"/>
<rect x="1895" y="1117.2" width="194.5" height="17.4" fill="#0030ff"/>
<rect x="1895" y="1134.3" width="194.5" height="17.4" fill="#0000ff"/>
<rect x="1895" y="1151.4" width="194.5" height="17.4" fill="#2800ff"/>
<rect x="1895" y="1168.5" width="194.5" height="17.4" fill="#5800ff"/>
<rect x="1895" y="1185.6" width="194.5" height="17.4" fill="#8c00ff"/>
<rect x="1895" y="1202.7" width="194.5" height="17.4" fill="#c400ff"/>
<rect x="1895" y="1219.8" width="194.5" height="17.4" fill="#f400ff"/>
<rect x="1895" y="1236.9" width="194.5" height="17.4" fill="#ff00ff"/>
<rect x="1895" y="774.1" width="194.5" height="2" fill="#000" fill-opacity="0.28"/>
<rect x="1895" y="791.2" width="194.5" height="2" fill="#000" fill-opacity="0.28"/>
<rect x="1895" y="808.3" width="194.5" height="2" fill="#000" fill-opacity="0.28"/>
<rect x="1895" y="825.4" width="194.5" height="2" fill="#000" fill-opacity="0.28"/>
<rect x="1895" y="842.5" width="194.5" height="2" fill="#000" fill-opacity="0.28"/>
<rect x="1895" y="859.6" width="194.5" height="2" fill="#000" fill-opacity="0.28"/>
<rect x="1895" y="876.7" width="194.5" height="2" fill="#000" fill-opacity="0.28"/>
<rect x="1895" y="893.8" width="194.5" height="2" fill="#000" fill-opacity="0.28"/>
<rect x="1895" y="910.9" width="194.5" height="2" fill="#000" fill-opacity="0.28"/>
<rect x="1895" y="928" width="194.5" height="2" fill="#000" fill-opacity="0.28"/>
<rect x="1895" y="945.1" width="194.5" height="2" fill="#000" fill-opacity="0.28"/>
<rect x="1895" y="962.2" width="194.5" height="2" fill="#000" fill-opacity="0.28"/>
<rect x="1895" y="979.3" width="194.5" height="2" fill="#000" fill-opacity="0.28"/>
<rect x="1895" y="996.4" width="194.5" height="2" fill="#000" fill-opacity="0.28"/>
<rect x="1895" y="1013.6" width="194.5" height="2" fill="#000" fill-opacity="0.28"/>
<rect x="1895" y="1030.7" width="194.5" height="2" fill="#000" fill-opacity="0.28"/>
<rect x="1895" y="1047.8" width="194.5" height="2" fill="#000" fill-opacity="0.28"/>
<rect x="1895" y="1064.9" width="194.5" height="2" fill="#000" fill-opacity="0.28"/>
<rect x="1895" y="1082" width="194.5" height="2" fill="#000" fill-opacity="0.28"/>
<rect x="1895" y="1099.1" width="194.5" height="2" fill="#000" fill-opacity="0.28"/>
<rect x="1895" y="1116.2" width="194.5" height="2" fill="#000" fill-opacity="0.28"/>
<rect x="1895" y="1133.3" width="194.5" height="2" fill="#000" fill-opacity="0.28"/>
<rect x="1895" y="1150.4" width="194.5" height="2" fill="#000" fill-opacity="0.28"/>
<rect x="1895" y="1167.5" width="194.5" height="2" fill="#000" fill-opacity="0.28"/>
<rect x="1895" y="1184.6" width="194.5" height="2" fill="#000" fill-opacity="0.28"/>
<rect x="1895" y="1201.7" width="194.5" height="2" fill="#000" fill-opacity="0.28"/>
<rect x="1895" y="1218.8" width="194.5" height="2" fill="#000" fill-opacity="0.28"/>
<rect x="1895" y="1235.9" width="194.5" height="2" fill="#000" fill-opacity="0.28"/>
<rect x="1895" y="758" width="194.5" height="496" fill="none" stroke="#000" stroke-opacity="0.18" stroke-width="1.2"/>
<text class="n" x="2118.3" y="775.9" font-size="39.5" textLength="199.5" lengthAdjust="spacingAndGlyphs">1350000000</text>
<text class="n" x="2118.3" y="828.9" font-size="39.5" textLength="199.5" lengthAdjust="spacingAndGlyphs">1200000000</text>
<text class="n" x="2118.3" y="881.9" font-size="39.5" textLength="199.5" lengthAdjust="spacingAndGlyphs">1050000000</text>
<text class="n" x="2118.3" y="934.9" font-size="39.5" textLength="179.5" lengthAdjust="spacingAndGlyphs">900000000</text>
<text class="n" x="2118.3" y="987.9" font-size="39.5" textLength="179.5" lengthAdjust="spacingAndGlyphs">750000000</text>
<text class="n" x="2118.3" y="1040.9" font-size="39.5" textLength="179.5" lengthAdjust="spacingAndGlyphs">600000000</text>
<text class="n" x="2118.3" y="1093.9" font-size="39.5" textLength="179.5" lengthAdjust="spacingAndGlyphs">450000000</text>
<text class="n" x="2118.3" y="1146.9" font-size="39.5" textLength="179.5" lengthAdjust="spacingAndGlyphs">300000000</text>
<text class="n" x="2118.3" y="1199.9" font-size="39.5" textLength="179.5" lengthAdjust="spacingAndGlyphs">150000000</text>
<text class="n" x="2118.3" y="1252.9" font-size="39.5" textLength="19.9" lengthAdjust="spacingAndGlyphs">0</text>
<text class="n" x="1895.5" y="737.6" font-size="37" textLength="485" lengthAdjust="spacingAndGlyphs">Total Current Density (A/cm<tspan font-size="26" dy="-15">2</tspan><tspan dy="15">)</tspan></text>
</g>
<g id="labels">
<text class="s" x="261.3" y="1749.5" font-size="79" text-anchor="middle">0</text>
<text class="s" x="480" y="1749.5" font-size="79" text-anchor="middle">5</text>
<text class="s" x="725.6" y="1749.5" font-size="79" text-anchor="middle">10</text>
<text class="s" x="946.5" y="1749.5" font-size="79" text-anchor="middle">15</text>
<text class="s" x="1188.6" y="1749.5" font-size="79" text-anchor="middle">20</text>
<text class="s" x="1409" y="1749.5" font-size="79" text-anchor="middle">25</text>
<text class="s" x="1653" y="1749.5" font-size="79" text-anchor="middle">30</text>
<text class="s" x="212.5" y="82.9" font-size="79" text-anchor="end">0</text>
<text class="s" x="210" y="331.3" font-size="79" text-anchor="end">5</text>
<text class="s" x="211.7" y="583.1" font-size="79" text-anchor="end">10</text>
<text class="s" x="210" y="836.2" font-size="79" text-anchor="end">15</text>
<text class="s" x="211.7" y="1088.2" font-size="79" text-anchor="end">20</text>
<text class="s" x="210" y="1338.7" font-size="79" text-anchor="end">25</text>
<text class="s" x="212.5" y="1588.7" font-size="79" text-anchor="end">30</text>
<text class="s" x="416.8" y="1634.3" font-size="101" textLength="279" lengthAdjust="spacingAndGlyphs">Source</text>
<text class="s" x="874.5" y="1631.8" font-size="101" textLength="332" lengthAdjust="spacingAndGlyphs">Channel</text>
<text class="s" x="1507.5" y="1633.8" font-size="101" textLength="230" lengthAdjust="spacingAndGlyphs">Drain</text>
<text class="s" x="532" y="1825" font-size="94" textLength="986" lengthAdjust="spacingAndGlyphs">Distance along x-axis (nm)</text>
<text class="s" transform="translate(110.5 1250.3) rotate(-90)" font-size="94" textLength="986" lengthAdjust="spacingAndGlyphs">Distance along z-axis (nm)</text>
<text class="s" font-size="85"><tspan x="1174.5" y="1934.8" textLength="27" lengthAdjust="spacingAndGlyphs">(</tspan><tspan x="1201.3" y="1934" font-size="86" font-weight="bold" textLength="41.2" lengthAdjust="spacingAndGlyphs">a</tspan><tspan x="1242" y="1934.8" textLength="27" lengthAdjust="spacingAndGlyphs">)</tspan></text>
</g>
</svg></body></html>
